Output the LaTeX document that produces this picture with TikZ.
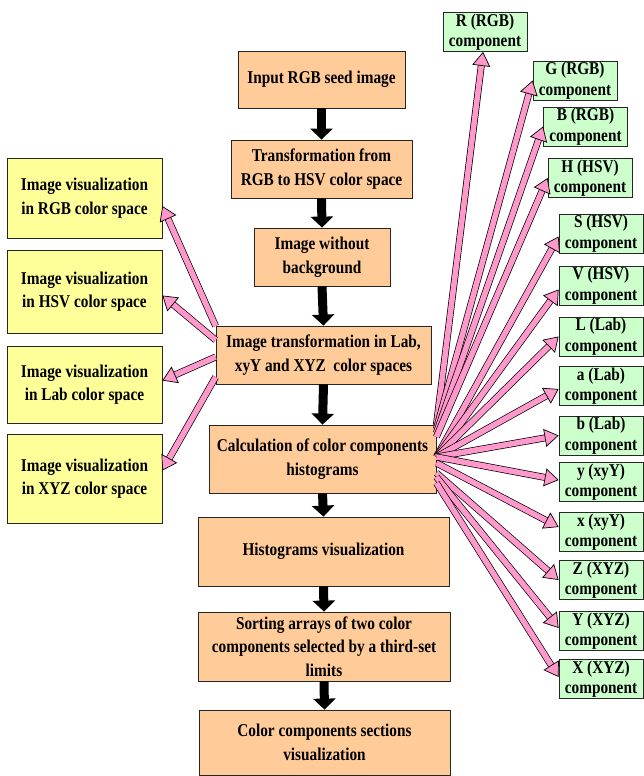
\documentclass[tikz,border=0pt]{standalone}
\usepackage{fontspec}
\setmainfont{Liberation Serif}[FakeStretch=0.85]
\usepackage{tikz}
\usetikzlibrary{arrows.meta}
\definecolor{stepfill}{HTML}{FFCC99}
\definecolor{viewfill}{HTML}{FFFF99}
\definecolor{compfill}{HTML}{CCFFCC}
\definecolor{fanpink}{HTML}{FF99CC}
\tikzset{
  stage/.style={draw=black!85, line width=0.8pt, fill=stepfill, align=center, inner sep=0pt,
    font=\bfseries\fontsize{18}{23.5}\selectfont},
  view/.style={stage, fill=viewfill, minimum width=155pt},
  comp/.style={stage, fill=compfill, minimum width=84pt, minimum height=39pt,
    font=\bfseries\fontsize{18}{20.5}\selectfont},
  flow/.style={line width=9pt, -{Triangle[length=11pt,width=22pt]}},
  fan/.style={draw=black, line width=0.7pt, double=fanpink, double distance=5.5pt,
    -{Triangle[length=14pt,width=18pt,line width=0.7pt,fill=fanpink]}},
}

\begin{document}
\begin{tikzpicture}[x=1pt, y=-1pt]
      \useasboundingbox (0, 0) rectangle (644, 776);

      \node[stage, minimum width=167pt, minimum height=57pt](seed) at (321.5, 79.5) {Input RGB seed image};
      \node[stage, minimum width=181pt, minimum height=58pt](tohsv) at (321.5, 169) {Transformation from\\RGB to HSV color space};
      \node[stage, minimum width=136pt, minimum height=58pt](nobg) at (322, 257) {Image without\\background};
      \node[stage, minimum width=215pt, minimum height=58pt](labxyz) at (323.5, 355) {Image transformation in Lab,\\xyY and XYZ\ \ color spaces};
      \node[stage, minimum width=227pt, minimum height=68pt](calc) at (322.5, 459) {Calculation of color components\\histograms};
      \node[stage, minimum width=251pt, minimum height=69pt](histvis) at (323.5, 551.5) {Histograms visualization};
      \node[stage, minimum width=252pt, minimum height=69pt](sorting) at (324, 646.5) {Sorting arrays of two color\\components selected by a third-set\\limits};
      \node[stage, minimum width=251pt, minimum height=65pt](sections) at (324.5, 742.5) {Color components sections\\visualization};

      \node[view, minimum height=80pt](vrgb) at (84.5, 198) {Image visualization\\in RGB color space};
      \node[view, minimum height=83pt](vhsv) at (84.5, 291.5) {Image visualization\\in HSV color space};
      \node[view, minimum height=77pt](vlab) at (84.5, 384.5) {Image visualization\\in Lab color space};
      \node[view, minimum height=89pt](vxyz) at (84.5, 478.5) {Image visualization\\in XYZ color space};

      \node[comp](cR) at (485, 32) {R (RGB)\\component};
      \node[comp](cG) at (575, 80.5) {G (RGB)\\component};
      \node[comp](cB) at (585.5, 126.5) {B (RGB)\\component};
      \node[comp](cH) at (590, 178) {H (HSV)\\component};
      \node[comp](cS) at (601, 233.5) {S (HSV)\\component};
      \node[comp](cV) at (601, 285.5) {V (HSV)\\component};
      \node[comp](cL) at (601, 336.5) {L (Lab)\\component};
      \node[comp](ca) at (601, 386) {a (Lab)\\component};
      \node[comp](cb) at (601, 435.5) {b (Lab)\\component};
      \node[comp](cy) at (601, 482) {y (xyY)\\component};
      \node[comp](cx) at (601, 532) {x (xyY)\\component};
      \node[comp](cZ) at (601, 580) {Z (XYZ)\\component};
      \node[comp](cY) at (601, 631) {Y (XYZ)\\component};
      \node[comp](cX) at (601, 679) {X (XYZ)\\component};

      \draw[flow] (seed.south) -- (tohsv.north);
      \draw[flow] (tohsv.south) -- (nobg.north);
      \draw[flow] (nobg.south) -- (labxyz.north);
      \draw[flow] (labxyz.south) -- (calc.north);
      \draw[flow] (calc.south) -- (histvis.north);
      \draw[flow] (histvis.south) -- (sorting.north);
      \draw[flow] (sorting.south) -- (sections.north);

      \draw[fan] ([yshift=29pt]labxyz.west) -- ([yshift=-8pt]vrgb.east);
      \draw[fan] ([yshift=15pt]labxyz.west) -- ([yshift=-4pt]vhsv.east);
      \draw[fan] ([yshift=-2pt]labxyz.west) -- ([yshift=4pt]vlab.east);
      \draw[fan] ([yshift=-22pt]labxyz.west) -- ([yshift=8pt]vxyz.east);

      \draw[fan] ([yshift=34pt]calc.east) -- ([xshift=-2pt]cR.south);
      \draw[fan] ([yshift=30pt]calc.east) -- (cG.west);
      \draw[fan] ([yshift=26pt]calc.east) -- (cB.west);
      \draw[fan] ([yshift=22pt]calc.east) -- (cH.west);
      \draw[fan] ([yshift=2pt]calc.east) -- ([yshift=-3pt]cS.west);
      \draw[fan] ([yshift=2pt]calc.east) -- ([yshift=-4pt]cV.west);
      \draw[fan] ([yshift=2pt]calc.east) -- (cL.west);
      \draw[fan] ([yshift=2pt]calc.east) -- ([yshift=-3pt]ca.west);
      \draw[fan] ([yshift=2pt]calc.east) -- (cb.west);
      \draw[fan] ([yshift=2pt]calc.east) -- ([yshift=2pt]cy.west);
      \draw[fan] ([yshift=-4pt]calc.east) -- ([yshift=5pt]cx.west);
      \draw[fan] ([yshift=-14pt]calc.east) -- (cZ.west);
      \draw[fan] ([yshift=-18pt]calc.east) -- ([yshift=3pt]cY.west);
      \draw[fan] ([yshift=-24pt]calc.east) -- ([yshift=2pt]cX.west);
    \end{tikzpicture}
\end{document}
